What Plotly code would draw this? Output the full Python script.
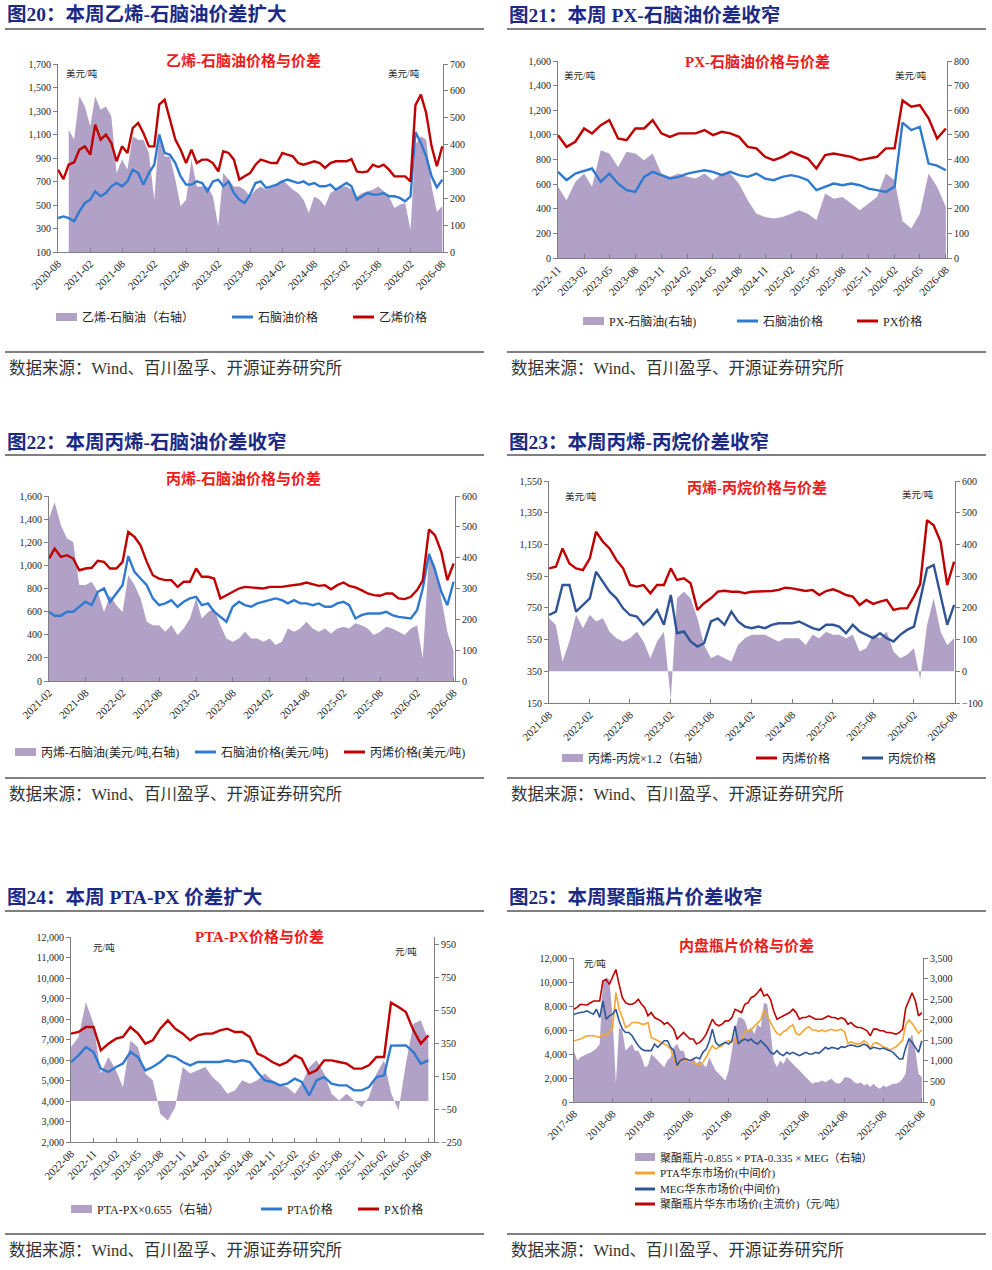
import pandas as pd
import plotly.graph_objects as go

# ---- data (monthly readings) ----
# fig 20: ethylene / naphtha, USD/t, from 2020-08
ethylene_20 = [801, 720, 843, 863, 971,
               999, 928, 1184, 1056, 1099, 1028, 872, 999, 943, 1155, 1198, 1113,
               999, 999, 1354, 1396, 1226, 1056, 971, 857, 971, 857, 886, 886,
               857, 786, 957, 943, 886, 716, 744, 772, 843, 886, 872, 857,
               857, 943, 928, 914, 857, 843, 857, 872, 857, 815, 857, 872,
               872, 872, 891, 786, 778, 786, 843, 823, 843, 801, 744, 744,
               744, 701, 1350, 1439, 1283, 999, 830, 999]
naphtha_20 = [389, 403, 389, 361, 446,
              517, 545, 616, 574, 602, 659, 687, 659, 701, 801, 772, 673,
              772, 843, 1100, 943, 928, 857, 744, 673, 673, 701, 687, 616,
              701, 716, 659, 701, 602, 545, 517, 588, 687, 701, 645, 659,
              673, 701, 716, 701, 687, 701, 673, 687, 659, 659, 673, 630,
              659, 687, 659, 545, 574, 602, 588, 588, 602, 574, 574, 560,
              531, 574, 1120, 1028, 914, 744, 650, 716]
# spread starts 2020-10
spread_20 = [455, 418, 580,
             542, 468, 580, 530, 542, 505, 294, 344, 307, 431, 418, 418,
             369, 195, 443, 356, 356, 269, 170, 195, 344, 244, 244, 244,
             207, 96, 294, 269, 244, 244, 232, 207, 232, 244, 232, 244,
             257, 269, 251, 232, 220, 195, 145, 207, 195, 170, 220, 232,
             244, 244, 232, 207, 220, 226, 232, 244, 226, 207, 164, 176,
             182, 83, 400, 431, 418, 244, 150, 170]

# fig 21: PX / naphtha, USD/t, from 2022-11
px_21 = [998, 903,
         944, 1052, 1012, 1079, 1120, 971, 957, 1052, 1052, 1120, 1012, 984,
         1012, 1012, 1012, 1039, 998, 1025, 1012, 984, 903, 890, 822, 795,
         822, 862, 835, 808, 727, 835, 849, 835, 822, 795, 808, 822,
         890, 890, 1280, 1229, 1242, 1134, 971, 1052]
naphtha_21 = [700, 632,
              686, 708, 727, 618, 686, 605, 551, 537, 659, 700, 673, 645,
              659, 686, 700, 713, 700, 673, 700, 673, 659, 686, 645, 632,
              659, 673, 659, 632, 551, 578, 605, 591, 605, 591, 564, 551,
              537, 578, 1100, 1039, 1066, 767, 750, 713]
spread_21 = [289, 235,
             309, 343, 289, 438, 424, 370, 431, 424, 397, 424, 343, 330,
             343, 330, 323, 343, 316, 343, 343, 302, 235, 180, 167, 160,
             167, 180, 194, 180, 153, 262, 241, 248, 221, 194, 221, 248,
             343, 316, 150, 120, 180, 343, 289, 207]

# fig 22: propylene / naphtha, USD/t, from 2021-02
propylene_22 = [1059, 1145, 1073, 1088, 1059, 958, 973, 979, 1040, 1030, 973,
                973, 1030, 1289, 1246, 1174, 1030, 915, 886, 872, 872, 814, 858,
                858, 973, 901, 901, 886, 714, 743, 771, 800, 814, 809, 809,
                800, 814, 814, 814, 823, 829, 837, 852, 835, 823, 829, 794,
                829, 852, 823, 809, 786, 757, 743, 737, 757, 757, 714, 708,
                728, 786, 870, 1312, 1260, 1117, 872, 1016]
naphtha_22 = [599, 564, 564, 599, 599, 642, 685, 656, 771, 800, 685,
              757, 829, 1080, 944, 886, 829, 714, 656, 671, 699, 642, 685,
              714, 728, 656, 671, 599, 555, 512, 642, 685, 656, 642, 671,
              685, 699, 714, 699, 671, 699, 671, 671, 656, 671, 642, 642,
              671, 685, 656, 541, 570, 584, 584, 584, 599, 570, 555, 547,
              541, 613, 800, 1100, 958, 771, 656, 858]
spread_22 = [527, 580, 505, 462, 451, 311, 311, 322, 289, 224, 278,
             246, 224, 343, 311, 268, 192, 181, 181, 160, 181, 149, 170,
             203, 268, 203, 224, 235, 181, 138, 127, 138, 160, 138, 138,
             127, 138, 117, 127, 170, 160, 170, 192, 170, 160, 170, 154,
             170, 176, 170, 187, 181, 170, 149, 160, 176, 170, 160, 149,
             170, 181, 73, 408, 375, 268, 160, 95]

# fig 23: propylene / propane, USD/t, from 2021-08
propylene_23 = [999, 1009, 1125, 1030, 999,
                988, 1062, 1230, 1167, 1125, 1051, 999, 894, 884, 894, 842, 894,
                894, 999, 926, 936, 905, 737, 779, 810, 852, 858, 852, 852,
                842, 852, 852, 852, 856, 863, 877, 873, 863, 856, 863, 831,
                856, 867, 852, 831, 821, 768, 800, 775, 789, 800, 737, 747,
                747, 821, 900, 1303, 1271, 1167, 894, 1041]
propane_23 = [705, 726, 894, 894, 726,
              768, 810, 978, 915, 852, 810, 747, 705, 695, 643, 684, 737,
              643, 831, 590, 601, 538, 506, 527, 664, 684, 643, 726, 664,
              632, 622, 632, 622, 643, 653, 653, 653, 664, 643, 622, 611,
              643, 643, 632, 590, 643, 601, 580, 559, 590, 559, 538, 580,
              611, 632, 800, 999, 1020, 831, 643, 768]
spread_23 = [167, 146, 30, 94, 178,
             136, 178, 157, 167, 125, 104, 94, 104, 125, 94, 41, 94,
             125, -90, 230, 251, 230, 167, 83, 41, 52, 41, 31, 83,
             104, 115, 115, 115, 104, 94, 104, 104, 104, 83, 115, 104,
             125, 115, 115, 104, 115, 62, 73, 115, 104, 125, 62, 41,
             52, 73, -26, 146, 230, 125, 83, 104]

# fig 24: PTA / PX, CNY/t, from 2022-08
px_24 = [7285, 7366, 7610, 7610, 6472,
         6797, 7041, 7122, 7610, 7300, 6797, 6959, 7528, 7935, 7528, 7285, 6959,
         7203, 7285, 7285, 7447, 7528, 7366, 7366, 7122, 6309, 6146, 5902, 5740,
         5902, 6228, 6065, 5333, 5496, 5984, 5984, 5902, 5821, 5577, 5577, 5740,
         6146, 6146, 8800, 8585, 8341, 7447, 6797, 7203]
pta_24 = [5902, 6228, 6634, 6390, 5577,
          5415, 5659, 5821, 6390, 6146, 5496, 5659, 5902, 6228, 6146, 5902, 5740,
          5902, 5902, 5902, 5902, 5984, 5902, 5984, 5902, 5415, 5008, 4927, 4764,
          4846, 5089, 4927, 4276, 5008, 5171, 4846, 4764, 4764, 4520, 4520, 4683,
          5171, 5252, 6700, 6715, 6715, 6390, 5821, 5984]
spread_24 = [328, 389, 600, 470, 166,
             267, 186, 83, 368, 328, 166, 125, -78, -119, -38, 206, 166,
             186, 206, 145, 105, 44, 64, 125, 105, 125, 166, 125, 105,
             83, 44, 105, 206, 247, 166, 44, 2, 44, 2, -38, 24,
             166, 247, 50, -58, 226, 470, 490, 368]

# fig 25: PET bottle chips, CNY/t, from 2017-08
pet_25 = [7728, 7900, 8142, 8100, 8087,
          8250, 8418, 8418, 8418, 10074, 10212, 9798, 10350, 11040, 9798, 8694, 8280,
          8142, 8142, 8280, 8556, 8142, 7866, 7176, 7452, 7038, 6900, 6762, 6486,
          6624, 6348, 6072, 5244, 5520, 5796, 5520, 5244, 5244, 4830, 4968, 5244,
          5658, 6348, 6900, 6486, 6348, 6486, 6762, 6762, 7038, 7728, 7590, 7452,
          8142, 8280, 8694, 8832, 9108, 9450, 8832, 8970, 8556, 7590, 6900, 7038,
          7176, 7314, 7452, 7728, 7452, 6900, 7038, 7038, 7176, 7038, 6900, 6900,
          6900, 7038, 7176, 7038, 7038, 6900, 7038, 6900, 6486, 6624, 6348, 6210,
          6210, 6072, 5934, 5520, 6072, 6072, 5934, 5934, 5796, 5796, 5713, 5658,
          5796, 6072, 7800, 8556, 9108, 8418, 7176, 7452]
pta_25 = [5106, 5150, 5244, 5400, 5520,
          5520, 5520, 5450, 5382, 5658, 5520, 5796, 6210, 9108, 7728, 7038, 6210,
          6348, 6624, 6624, 6624, 6486, 6486, 6624, 5382, 5244, 5106, 4968, 4830,
          4692, 4416, 3726, 2898, 3450, 3588, 3450, 3450, 3312, 3174, 3036, 3312,
          3726, 4278, 4692, 4416, 4554, 4692, 4968, 5106, 4968, 5382, 4830, 5100,
          5861, 5950, 6000, 6300, 6559, 6838, 7675, 7117, 6698, 6140, 5722, 5582,
          5861, 6000, 6280, 6419, 5722, 5582, 5861, 6140, 6280, 6000, 6000, 5861,
          6000, 5861, 6000, 6056, 5945, 6000, 6056, 5861, 4884, 5024, 4884, 4828,
          4884, 5108, 4940, 4466, 4884, 4940, 4745, 4605, 4521, 4326, 4466, 4605,
          4884, 5163, 6419, 6838, 6559, 6140, 5722, 6000]
meg_25 = [7314, 7400, 7452, 7500, 7590,
          7450, 7314, 7728, 7038, 8418, 6900, 7176, 7314, 7728, 6762, 6072, 5796,
          5796, 5520, 5106, 4692, 4416, 4278, 4278, 4278, 4830, 4554, 4830, 5106,
          5106, 4554, 4278, 3036, 3450, 3588, 3588, 3450, 3588, 3726, 3588, 4140,
          4416, 5106, 6072, 4968, 4692, 4830, 4968, 4830, 5106, 6348, 4830, 5106,
          5244, 5106, 5244, 4968, 4830, 5106, 4830, 4554, 4140, 4002, 4278, 4002,
          3864, 4140, 4002, 4140, 4002, 3864, 4002, 4140, 4002, 4002, 4140, 4057,
          4278, 4554, 4416, 4554, 4499, 4416, 4609, 4554, 4692, 4747, 4692, 4609,
          4692, 4830, 4692, 4416, 4554, 4499, 4416, 4499, 4416, 4278, 4140, 3864,
          3588, 3588, 4500, 5244, 4968, 4554, 4140, 5106]
spread_25 = [1248, 1006, 1087, 1130, 1167,
             1200, 1248, 1300, 1409, 2938, 3019, 2979, 2053, 443, 1811, 1731, 1248,
             1328, 1409, 1248, 1248, 1087, 845, 886, 1167, 1087, 1006, 926, 845,
             1006, 1087, 1328, 1409, 1248, 1248, 1006, 966, 1087, 926, 1006, 926,
             845, 1087, 926, 765, 684, 604, 523, 765, 1248, 1731, 2053, 2053,
             1972, 1731, 1811, 1650, 1892, 1811, 2415, 2375, 1731, 1006, 845, 1006,
             926, 1087, 1006, 926, 845, 765, 684, 604, 523, 443, 483, 483,
             523, 483, 523, 564, 483, 443, 483, 604, 604, 564, 483, 443,
             483, 403, 443, 362, 443, 362, 322, 403, 362, 403, 443, 443,
             483, 564, 684, 1489, 1650, 1248, 684, 604]


def months(start, values):
    return pd.date_range(start, periods=len(values), freq="MS")


W, H = 992, 1270
FONT = "Liberation Serif, Times New Roman, Noto Sans CJK SC"
NAVY = "#1c2a86"
RED_T = "#ee1c1c"
AREA = "#b2a1c7"
RED = "#c00000"
BLUE = "#2f7ad0"
DBLUE = "#2f5597"
ORANGE = "#f7a532"
AXIS = "#7f7f7f"


def fx(v):
    return v / W


def fy(v):
    return 1 - v / H


panels = [
    dict(box=(58, 443, 64, 252), xr=["2020-08-01", "2026-08-05"], dtick="M6",
         yl=(100, 1700, 100, 200), yr=(0, 700, 0, 100),
         area=(months("2020-10-01", spread_20), spread_20, "乙烯-石脑油（右轴）"),
         lines=[(months("2020-08-01", naphtha_20), naphtha_20, BLUE, "石脑油价格"),
                (months("2020-08-01", ethylene_20), ethylene_20, RED, "乙烯价格")]),
    dict(box=(558, 947, 61, 258), xr=["2022-11-01", "2026-08-05"], dtick="M3",
         yl=(0, 1600, 0, 200), yr=(0, 800, 0, 100),
         area=(months("2022-11-01", spread_21), spread_21, "PX-石脑油(右轴)"),
         lines=[(months("2022-11-01", naphtha_21), naphtha_21, BLUE, "石脑油价格"),
                (months("2022-11-01", px_21), px_21, RED, "PX价格")]),
    dict(box=(49, 455, 496, 681), xr=["2021-02-01", "2026-08-08"], dtick="M6",
         yl=(0, 1600, 0, 200), yr=(0, 600, 0, 100),
         area=(months("2021-02-01", spread_22), spread_22, "丙烯-石脑油(美元/吨,右轴)"),
         lines=[(months("2021-02-01", naphtha_22), naphtha_22, BLUE, "石脑油价格(美元/吨)"),
                (months("2021-02-01", propylene_22), propylene_22, RED, "丙烯价格(美元/吨)")]),
    dict(box=(549, 955, 481, 703), xr=["2021-08-01", "2026-08-05"], dtick="M6",
         yl=(150, 1550, 150, 200), yr=(-100, 600, -100, 100),
         area=(months("2021-08-01", spread_23), spread_23, "丙烯-丙烷×1.2（右轴）"),
         lines=[(months("2021-08-01", propane_23), propane_23, DBLUE, "丙烷价格"),
                (months("2021-08-01", propylene_23), propylene_23, RED, "丙烯价格")]),
    dict(box=(71, 434, 937, 1142), xr=["2022-08-01", "2026-08-24"], dtick="M3",
         yl=(2000, 12000, 2000, 1000), yr=(-250, 997, -250, 200),
         area=(months("2022-08-01", spread_24), spread_24, "PTA-PX×0.655（右轴）"),
         lines=[(months("2022-08-01", pta_24), pta_24, BLUE, "PTA价格"),
                (months("2022-08-01", px_24), px_24, RED, "PX价格")]),
    dict(box=(574, 923, 958, 1102), xr=["2017-08-01", "2026-08-12"], dtick="M12",
         yl=(0, 12000, 0, 2000), yr=(0, 3500, 0, 500),
         area=(months("2017-08-01", spread_25), spread_25,
               "聚酯瓶片-0.855 × PTA-0.335 × MEG（右轴）"),
         lines=[(months("2017-08-01", pta_25), pta_25, ORANGE, "PTA华东市场价(中间价)"),
                (months("2017-08-01", meg_25), meg_25, DBLUE, "MEG华东市场价(中间价)"),
                (months("2017-08-01", pet_25), pet_25, RED, "聚酯瓶片华东市场价(主流价)（元/吨）")],
         lw=1.6),
]

fig = go.Figure()
layout = dict(width=W, height=H,
              margin=dict(l=0, r=0, t=0, b=0, pad=0, autoexpand=False),
              paper_bgcolor="white", plot_bgcolor="white", showlegend=False,
              font=dict(family=FONT, color="#262626"))

ytickfont = dict(family=FONT, size=10, color="#262626")
xtickfont = dict(family=FONT, size=11, color="#262626")
for i, p in enumerate(panels):
    x0, x1, y0, y1 = p["box"]
    xn = "x" if i == 0 else f"x{i + 1}"
    yb = 2 * i + 1
    yo = 2 * i + 2
    ybn = "y" if yb == 1 else f"y{yb}"
    yon = f"y{yo}"
    # area on right axis (base), lines on left axis (overlay)
    ax, ay, aname = p["area"]
    fig.add_trace(go.Scatter(x=ax, y=ay, name=aname, mode="none", fill="tozeroy",
                             fillcolor=AREA, xaxis=xn, yaxis=ybn))
    for lx, ly, col, nm in p["lines"]:
        fig.add_trace(go.Scatter(x=lx, y=ly, name=nm, mode="lines",
                                 line=dict(color=col, width=p.get("lw", 2.4)),
                                 xaxis=xn, yaxis=yon))
    lo, hi, t0, dt = p["yl"]
    rlo, rhi, rt0, rdt = p["yr"]
    xkey = "xaxis" if i == 0 else f"xaxis{i + 1}"
    ybkey = "yaxis" if yb == 1 else f"yaxis{yb}"
    layout[xkey] = dict(domain=[fx(x0), fx(x1)], anchor=ybn, type="date",
                        range=p["xr"], tick0=p["xr"][0], dtick=p["dtick"],
                        tickformat="%Y-%m", tickangle=-45, tickfont=xtickfont,
                        ticks="inside", ticklen=4, tickcolor=AXIS, automargin=False,
                        showline=True, linecolor=AXIS, linewidth=1,
                        showgrid=False, zeroline=False)
    layout[ybkey] = dict(domain=[fy(y1), fy(y0)], anchor=xn, side="right",
                         range=[rlo, rhi], tick0=rt0, dtick=rdt, tickformat=",",
                         tickfont=ytickfont, ticks="outside", ticklen=4, tickcolor=AXIS,
                         showline=True, linecolor=AXIS, linewidth=1, automargin=False,
                         showgrid=False, zeroline=False)
    layout[f"yaxis{yo}"] = dict(overlaying=ybn, anchor=xn, side="left",
                                range=[lo, hi], tick0=t0, dtick=dt, tickformat=",",
                                tickfont=ytickfont, ticks="outside", ticklen=4,
                                tickcolor=AXIS, showline=True, linecolor=AXIS,
                                linewidth=1, showgrid=False, zeroline=False,
                                automargin=False)

shapes = []
annotations = []


def text(s, x, y, size, color="#262626", anchor="left", bold=False):
    annotations.append(dict(text=f"<b>{s}</b>" if bold else s, x=fx(x), y=fy(y),
                            xref="paper", yref="paper", xanchor=anchor,
                            yanchor="middle", showarrow=False,
                            font=dict(family=FONT, size=size, color=color)))


def hline(xa, xb, y, color="#000000", width=1.2):
    shapes.append(dict(type="line", xref="paper", yref="paper", x0=fx(xa), x1=fx(xb),
                       y0=fy(y), y1=fy(y), line=dict(color=color, width=width)))


def legend_item(kind, color, xa, y, label, size=12, w=21):
    if kind == "area":
        shapes.append(dict(type="rect", xref="paper", yref="paper", x0=fx(xa),
                           x1=fx(xa + w), y0=fy(y + 4), y1=fy(y - 4),
                           fillcolor=color, line=dict(width=0)))
    else:
        hline(xa, xa + w, y, color, 3)
    text(label, xa + w + 3, y, size)


# headers, rules and sources
headers = [("图20：本周乙烯-石脑油价差扩大", 5, 15), ("图21：本周 PX-石脑油价差收窄", 507, 15),
           ("图22：本周丙烯-石脑油价差收窄", 5, 442), ("图23：本周丙烯-丙烷价差收窄", 507, 442),
           ("图24：本周 PTA-PX 价差扩大", 5, 897), ("图25：本周聚酯瓶片价差收窄", 507, 897)]
rule_y = [(29, 352, 368), (455, 778, 794), (911, 1234, 1250)]
for k, (s, x, y) in enumerate(headers):
    top, bot, src = rule_y[k // 2]
    left = x < 500
    text(s, x, y, 19.5, NAVY, bold=True)
    xa, xb = (5, 484) if left else (507, 986)
    hline(xa, xb, top)
    hline(xa, xb, bot)
    text("数据来源：Wind、百川盈孚、开源证券研究所", xa + 2, src, 16.5, "#333333")

# chart subtitles
for s, x, y in [("乙烯-石脑油价格与价差", 243, 60), ("PX-石脑油价格与价差", 757, 62),
                ("丙烯-石脑油价格与价差", 243, 479), ("丙烯-丙烷价格与价差", 757, 487),
                ("PTA-PX价格与价差", 259, 937), ("内盘瓶片价格与价差", 746, 945)]:
    text(s, x, y, 15, RED_T, anchor="center", bold=True)

# unit labels
for s, x, y in [("美元/吨", 82, 74), ("美元/吨", 404, 74),
                ("美元/吨", 580, 75), ("美元/吨", 911, 75),
                ("美元/吨", 581, 496), ("美元/吨", 918, 495),
                ("元/吨", 104, 947), ("元/吨", 406, 951), ("元/吨", 595, 963)]:
    text(s, x, y, 9.5, anchor="center")

# legends
lg = [
    (0, [(56, "area"), (232, 0), (353, 1)], 317),
    (1, [(583, "area"), (737, 0), (857, 1)], 321),
    (2, [(15, "area"), (195, 0), (344, 1)], 752),
    (3, [(562, "area"), (862, 0), (756, 1)], 758),
    (4, [(71, "area"), (261, 0), (358, 1)], 1209),
]
for pi, items, y in lg:
    p = panels[pi]
    for xa, which in items:
        if which == "area":
            legend_item("area", AREA, xa, y, p["area"][2])
        else:
            _, _, col, nm = p["lines"][which]
            legend_item("line", col, xa, y, nm)
p6 = panels[5]
legend_item("area", AREA, 635, 1157, p6["area"][2], size=11, w=20)
for (_, _, col, nm), yy in zip(p6["lines"], [1173, 1189, 1204]):
    legend_item("line", col, 635, yy, nm, size=11, w=20)

layout["shapes"] = shapes
layout["annotations"] = annotations
fig.update_layout(**layout)
fig.write_html("out.html", config={"displayModeBar": False},
               post_script="document.body.style.margin='0';")
